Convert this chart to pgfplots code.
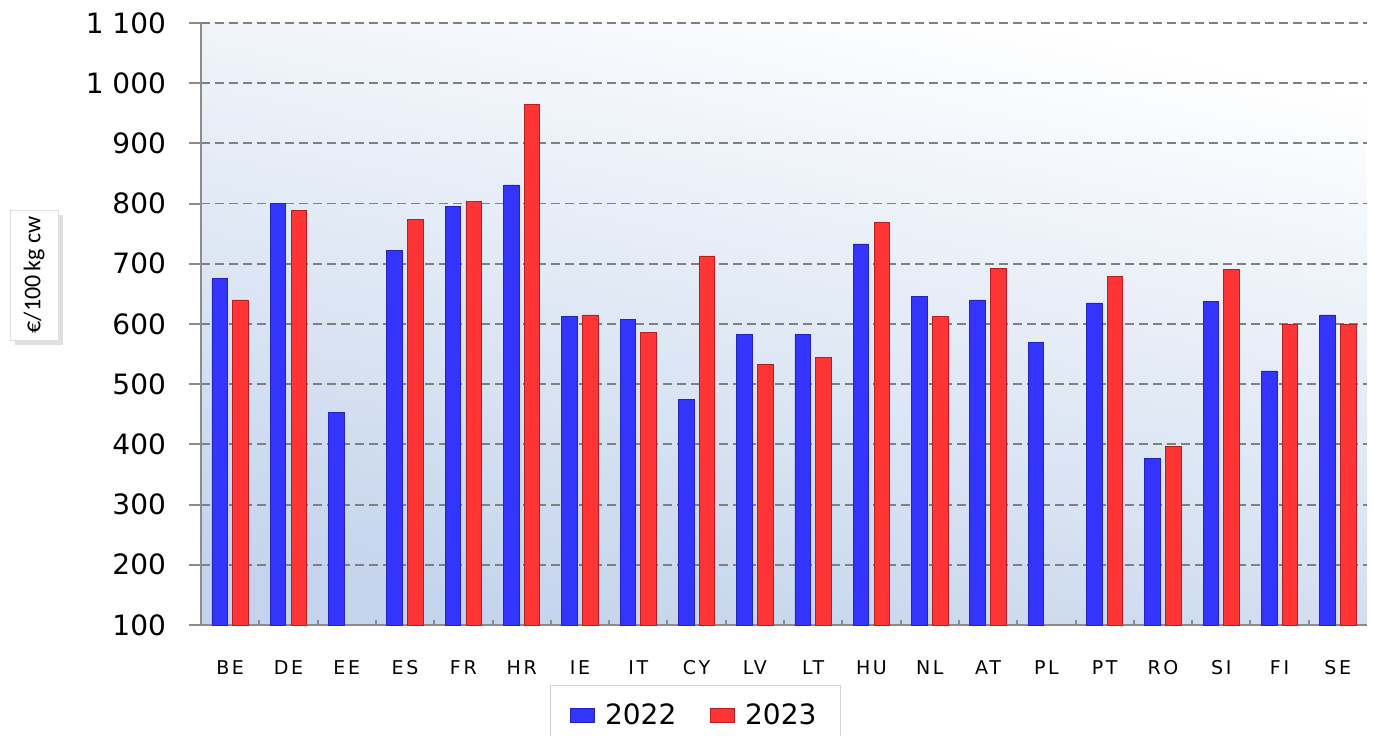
\documentclass[border=0pt]{standalone}
\usepackage{pgfplots}
\pgfplotsset{compat=1.18}
\usepackage{fontspec}
\setmainfont{DejaVu Sans}
\newfontfamily\carlito{Carlito}
\newfontfamily\spaced[LetterSpace=14]{DejaVu Sans}
\usetikzlibrary{shadows}
\definecolor{gridgray}{RGB}{128,128,128}
\definecolor{axgray}{RGB}{140,140,140}
\definecolor{bluemid}{RGB}{52,52,255}
\definecolor{blueedge}{RGB}{35,35,190}
\definecolor{redmid}{RGB}{255,52,52}
\definecolor{rededge}{RGB}{185,30,30}
\definecolor{bgblue}{RGB}{196,212,236}
\begin{document}
\begin{tikzpicture}
\begin{axis}[
  at={(100.5pt,55pt)}, anchor=south west,
  scale only axis, width=583pt, height=301pt,
  xmin=-0.5, xmax=19.5, ymin=100, ymax=1100,
  ybar=2.6pt, bar width=7.8pt,
  axis x line*=bottom, axis y line*=left,
  axis line style={axgray, line width=1pt},
  tick align=outside,
  major tick length=6pt,
  xtick={0,...,19},
  xticklabels={BE,DE,EE,ES,FR,HR,IE,IT,CY,LV,LT,HU,NL,AT,PL,PT,RO,SI,FI,SE},
  major x tick style={draw=none},
  extra x ticks={0.5,1.5,...,18.5},
  extra x tick labels={},
  extra x tick style={tick align=inside, major tick length=2.5pt, major x tick style={draw=axgray, line width=1pt}},
  xticklabel style={font=\spaced\fontsize{9.5}{11}\selectfont, text height=7pt, text depth=0pt, yshift=-8pt},
  ytick={100,200,...,1100},
  yticklabels={100,200,300,400,500,600,700,800,900,1 000,1 100},
  yticklabel style={font=\fontsize{14}{16}\selectfont, xshift=-8pt},
  y tick style={axgray, line width=1pt},
  ymajorgrids,
  major grid style={gridgray, line width=0.9pt, dash pattern=on 4.5pt off 2.5pt},
  axis background/.style={shade, top color=white, middle color=white!90!bgblue, bottom color=bgblue, shading angle=-12},
  legend columns=2,
  legend style={at={(0.424,-0.1)}, anchor=north, draw=gray!35, fill=white,
    font=\fontsize{14}{16}\selectfont, inner xsep=10pt, inner ysep=7pt,
    /tikz/every odd column/.append style={column sep=3pt},
    /tikz/every even column/.append style={column sep=15pt}},
  legend image code/.code={\path[#1] (0pt,-3.6pt) rectangle (12pt,3.6pt);},
]
\addplot[draw=blueedge, line width=0.4pt, fill=bluemid] coordinates {
(0,675) (1,800) (2,453) (3,722) (4,795) (5,831) (6,613) (7,607) (8,475) (9,582)
(10,582) (11,733) (12,646) (13,640) (14,570) (15,635) (16,376) (17,638) (18,522) (19,615)};
\addplot[draw=rededge, line width=0.4pt, fill=redmid] coordinates {
(0,640) (1,789) (3,774) (4,803) (5,964) (6,615) (7,586) (8,713) (9,533)
(10,544) (11,769) (12,612) (13,693) (15,679) (16,397) (17,690) (18,600) (19,600)};
\legend{2022,2023}
\end{axis}
\node[rotate=90, draw=gray!25, fill=white, drop shadow={opacity=0.25}, minimum width=65pt, minimum height=24pt,
  inner sep=1pt, font=\carlito\fontsize{12}{14}\selectfont] at (17pt,230pt) {€/100\,kg cw};
\pgfresetboundingbox
\path[use as bounding box] (0,0) rectangle (686.5pt,367.5pt);
\end{tikzpicture}
\end{document}
